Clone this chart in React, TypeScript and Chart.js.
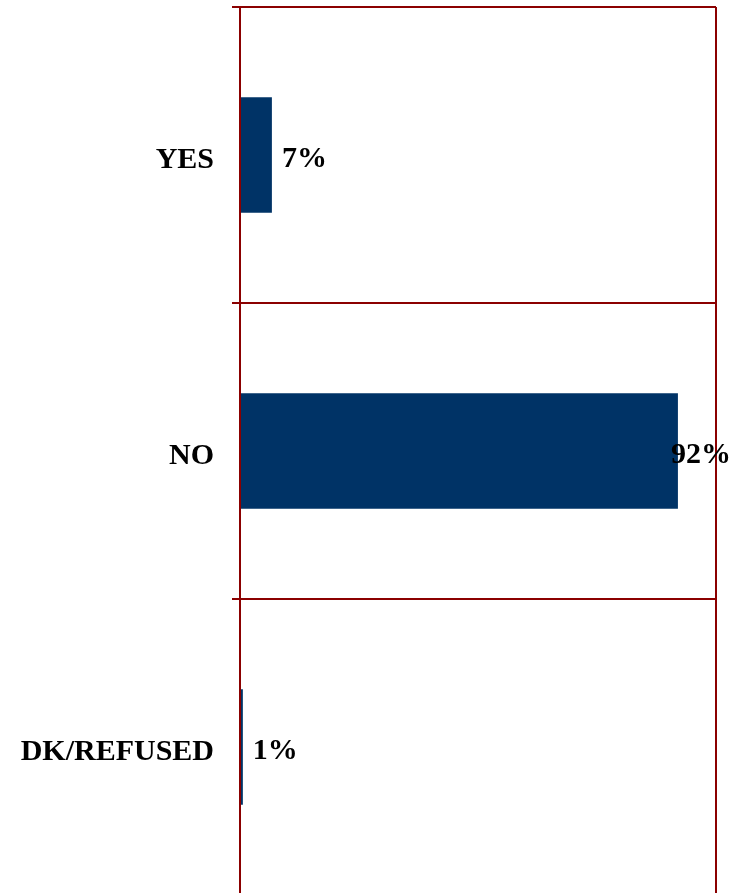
import React, { useEffect, useRef } from "react";
import { Chart, registerables } from "chart.js";

Chart.register(...registerables);

const categories = ["YES", "NO", "DK/REFUSED"];
const values = [6.7, 92, 0.6];
const valueLabels = ["7%", "92%", "1%"];

const RED = "#8B0000";
const BAR = "#003366";
const FONT = "'Liberation Serif', 'Times New Roman', serif";

const valueLabelPlugin = {
  id: "valueLabels",
  afterDatasetsDraw(chart: any) {
    const ctx = chart.ctx;
    const meta = chart.getDatasetMeta(0);
    ctx.save();
    ctx.font = `bold 30px ${FONT}`;
    ctx.fillStyle = "#000";
    ctx.textBaseline = "middle";
    ctx.textAlign = "left";
    meta.data.forEach((bar: any, i: number) => {
      const text = valueLabels[i];
      const w = ctx.measureText(text).width;
      let x = bar.x + 10;
      if (x + w > chart.width - 2) x = chart.width - 2 - w;
      ctx.fillText(text, x, bar.y + 4);
    });
    ctx.restore();
  },
};

export default function App() {
  const ref = useRef<HTMLCanvasElement | null>(null);
  useEffect(() => {
    if (!ref.current) return;
    const chart = new Chart(ref.current, {
      type: "bar",
      data: {
        labels: categories,
        datasets: [
          {
            data: values,
            backgroundColor: BAR,
            borderWidth: 0,
            barPercentage: 0.39,
            categoryPercentage: 1,
          },
        ],
      },
      options: {
        indexAxis: "y",
        animation: false,
        responsive: false,
        devicePixelRatio: 1,
        layout: { padding: { left: 0, top: 7, right: 17, bottom: 5 } },
        plugins: { legend: { display: false }, tooltip: { enabled: false } },
        scales: {
          x: {
            min: 0,
            max: 100,
            ticks: { display: false, stepSize: 100 },
            grid: { color: RED, lineWidth: 2, drawTicks: false },
            border: { display: false },
            afterFit(scale: any) {
              scale.height = 0;
              scale.paddingLeft = 0;
              scale.paddingRight = 0;
            },
          },
          y: {
            afterFit(scale: any) {
              scale.width = 240;
              scale.paddingTop = 0;
              scale.paddingBottom = 0;
            },
            ticks: {
              color: "#000",
              padding: 18,
              labelOffset: 5,
              font: { family: FONT, size: 30, weight: "bold" },
            },
            grid: { color: RED, lineWidth: 2, offset: true, drawTicks: true, tickLength: 8 },
            border: { display: true, color: RED, width: 2 },
          },
        },
      },
      plugins: [valueLabelPlugin],
    } as any);
    return () => chart.destroy();
  }, []);
  return (
    <div style={{ position: "fixed", top: 0, left: 0, width: 733, height: 893, overflow: "hidden", background: "#fff" }}>
      <canvas ref={ref} width={733} height={900} style={{ display: "block" }} />
    </div>
  );
}
